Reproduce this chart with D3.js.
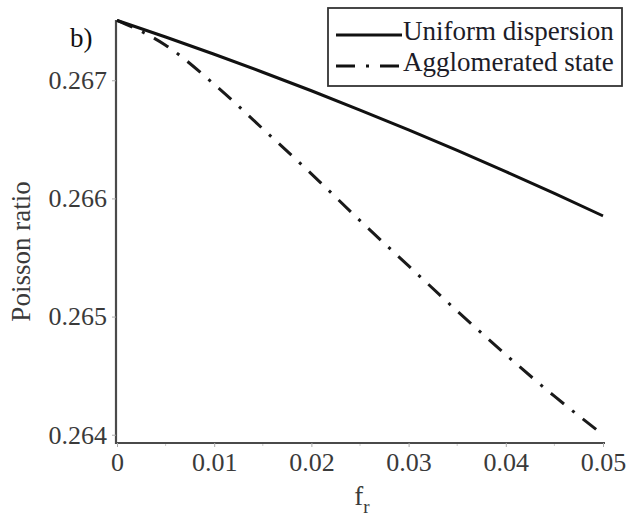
<!DOCTYPE html>
<html>
<head>
<meta charset="utf-8">
<script src="https://cdn.jsdelivr.net/npm/d3@7"></script>
<style>
  html, body { margin: 0; padding: 0; background: #fff; }
  svg { display: block; }
  text { font-family: "Liberation Serif", "Times New Roman", serif; }
</style>
</head>
<body>
<svg id="chart" width="630" height="521"></svg>
<script>
// ---- data ----
const fr = [0, 0.005, 0.01, 0.015, 0.02, 0.025, 0.03, 0.035, 0.04, 0.045, 0.05];
const uniformDispersion = [0.267507, 0.267366, 0.267220, 0.267068, 0.266911, 0.266748,
                           0.266580, 0.266406, 0.266227, 0.266042, 0.265852];
const agglomeratedState = [0.267507, 0.267297, 0.266966, 0.266589, 0.266208, 0.265812,
                           0.265429, 0.265047, 0.264678, 0.264326, 0.264000];
const xTicks = [0, 0.01, 0.02, 0.03, 0.04, 0.05];
const xTickLabels = ["0", "0.01", "0.02", "0.03", "0.04", "0.05"];
const xMinorTicks = [0.005, 0.015, 0.025, 0.035, 0.045];
const yTicks = [0.264, 0.265, 0.266, 0.267];
const yTickLabels = ["0.264", "0.265", "0.266", "0.267"];
const seriesNames = ["Uniform dispersion", "Agglomerated state"];

// ---- layout ----
const svg = d3.select("#chart");
const mLeft = 117, mRight = 603, mTop = 20, mBottom = 443;
const x = d3.scaleLinear().domain([0, 0.05]).range([mLeft, mRight]);
const y = d3.scaleLinear().domain([0.26393, 0.26751]).range([mBottom, mTop]);

const axisColor = "#4a4a4a";
const textColor = "#3a3a3a";

// axes lines
svg.append("line").attr("x1", mLeft - 1).attr("x2", mLeft - 1).attr("y1", mTop).attr("y2", mBottom + 1)
  .attr("stroke", axisColor).attr("stroke-width", 2.2);
svg.append("line").attr("x1", mLeft - 2).attr("x2", mRight + 2).attr("y1", mBottom).attr("y2", mBottom)
  .attr("stroke", axisColor).attr("stroke-width", 2.2);

// y axis
const yAxis = d3.axisLeft(y).tickValues(yTicks).tickFormat((d, i) => yTickLabels[i])
  .tickSize(4).tickPadding(5);
const gy = svg.append("g").attr("transform", `translate(${mLeft - 1},0)`).call(yAxis);
gy.select(".domain").remove();
gy.selectAll(".tick line").attr("stroke", "#aaa").attr("stroke-width", 1);
gy.selectAll(".tick text").attr("font-size", 26).attr("fill", textColor)
  .attr("font-family", "Liberation Serif, serif");

// x axis
const xAxis = d3.axisBottom(x).tickValues(xTicks).tickFormat((d, i) => xTickLabels[i])
  .tickSize(4).tickPadding(6);
const gx = svg.append("g").attr("transform", `translate(0,${mBottom})`).call(xAxis);
gx.select(".domain").remove();
gx.selectAll(".tick line").attr("stroke", "#aaa").attr("stroke-width", 1);
gx.selectAll(".tick text").attr("font-size", 26).attr("fill", textColor)
  .attr("font-family", "Liberation Serif, serif");

// minor x ticks (faint)
svg.append("g").selectAll("line").data(xMinorTicks).join("line")
  .attr("x1", d => x(d)).attr("x2", d => x(d))
  .attr("y1", mBottom + 1).attr("y2", mBottom + 3)
  .attr("stroke", "#ccc").attr("stroke-width", 1);

// axis titles
const xl = svg.append("text").attr("x", x(0.025) + 2).attr("y", 505)
  .attr("text-anchor", "middle").attr("font-size", 27).attr("fill", textColor);
xl.append("tspan").text("f");
xl.append("tspan").attr("font-size", 19).attr("dy", 8).text("r");

svg.append("text")
  .attr("transform", `translate(30,${(mTop + mBottom) / 2 + 20}) rotate(-90)`)
  .attr("text-anchor", "middle").attr("font-size", 27).attr("fill", textColor)
  .text("Poisson ratio");

// panel label
svg.append("text").attr("x", 70).attr("y", 47).attr("font-size", 27).attr("fill", "#111").text("b)");

// ---- lines ----
const line = d3.line().x(d => x(d[0])).y(d => y(d[1])).curve(d3.curveMonotoneX);
const uData = fr.map((f, i) => [f, uniformDispersion[i]]);
const aData = fr.map((f, i) => [f, agglomeratedState[i]]);

svg.append("path").datum(aData).attr("d", line)
  .attr("fill", "none").attr("stroke", "#1a1a1a").attr("stroke-width", 3)
  .attr("stroke-dasharray", "17,10.5,3,10.5");
svg.append("path").datum(uData).attr("d", line)
  .attr("fill", "none").attr("stroke", "#111").attr("stroke-width", 3);

// ---- legend ----
const lg = svg.append("g");
lg.append("rect").attr("x", 328).attr("y", 8).attr("width", 294).attr("height", 78)
  .attr("fill", "#fff").attr("stroke", "#333").attr("stroke-width", 1.8);
const legendRows = [
  { name: seriesNames[0], dash: null, y: 35 },
  { name: seriesNames[1], dash: "19,11,3,11", y: 66 }
];
legendRows.forEach(r => {
  const l = lg.append("line").attr("x1", 336).attr("x2", 402).attr("y1", r.y).attr("y2", r.y)
    .attr("stroke", "#111").attr("stroke-width", 3);
  if (r.dash) l.attr("stroke-dasharray", r.dash);
  lg.append("text").attr("x", 403).attr("y", r.y + 5).attr("font-size", 27)
    .attr("fill", "#1c1c28").text(r.name);
});
</script>
</body>
</html>
